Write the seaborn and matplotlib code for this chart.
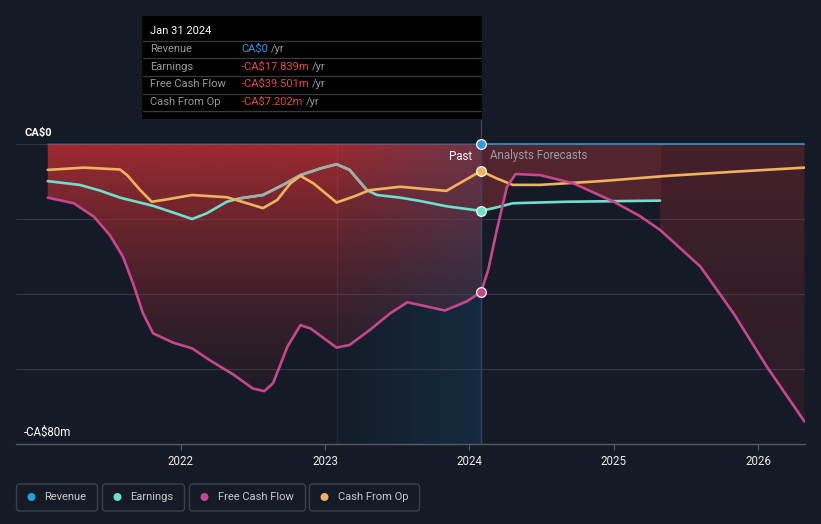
import numpy as np
import matplotlib
matplotlib.use('Agg')
import matplotlib.pyplot as plt
from matplotlib.patches import Rectangle, FancyBboxPatch, Circle
from matplotlib.transforms import IdentityTransform
import seaborn as sns

# values in CA$ millions, x in decimal years
rev_x = [2021.08, 2024.08, 2026.32]
rev_y = [0.0, 0.0, 0.0]

earn_x = [2021.08, 2021.30, 2021.44, 2021.58, 2021.81, 2021.95, 2022.08, 2022.18,
          2022.32, 2022.41, 2022.57, 2022.71, 2022.83, 2022.97, 2023.08, 2023.17,
          2023.29, 2023.36, 2023.52, 2023.66, 2023.84, 2024.08, 2024.19, 2024.30,
          2024.67, 2025.32]
earn_y = [-9.9, -10.9, -12.4, -14.3, -16.5, -18.3, -20.0, -18.5,
          -15.4, -14.5, -13.6, -10.9, -8.3, -6.5, -5.4, -6.9,
          -12.3, -13.6, -14.3, -15.2, -16.6, -17.839, -16.9, -15.8,
          -15.4, -15.1]

fcf_x = [2021.08, 2021.26, 2021.40, 2021.51, 2021.60, 2021.67, 2021.74, 2021.81,
         2021.95, 2022.08, 2022.20, 2022.37, 2022.50, 2022.58, 2022.64, 2022.74,
         2022.83, 2022.90, 2023.08, 2023.17, 2023.31, 2023.45, 2023.57, 2023.83,
         2023.98, 2024.08, 2024.13, 2024.19, 2024.26, 2024.32, 2024.49, 2024.72,
         2025.00, 2025.18, 2025.32, 2025.60, 2025.83, 2026.06, 2026.32]
fcf_y = [-14.3, -15.8, -19.4, -24.3, -30.0, -37.1, -45.2, -50.5,
         -53.0, -54.5, -57.6, -61.6, -65.2, -65.9, -63.8, -54.0,
         -48.3, -49.2, -54.3, -53.6, -49.6, -45.2, -42.2, -44.4,
         -42.0, -39.501, -33.6, -22.9, -11.4, -8.0, -8.3, -10.5,
         -15.4, -19.2, -22.9, -32.7, -45.2, -59.4, -74.0]

cfo_x = [2021.08, 2021.33, 2021.58, 2021.63, 2021.72, 2021.80, 2021.90, 2022.08,
         2022.32, 2022.46, 2022.57, 2022.67, 2022.76, 2022.83, 2022.92, 2023.08,
         2023.20, 2023.31, 2023.52, 2023.84, 2024.08, 2024.19, 2024.30, 2024.49,
         2024.91, 2025.37, 2025.83, 2026.32]
cfo_y = [-6.9, -6.3, -6.8, -8.3, -12.3, -15.4, -14.8, -13.6,
         -14.2, -15.8, -17.1, -14.9, -10.5, -8.5, -10.5, -15.6,
         -14.0, -12.3, -11.4, -12.5, -7.202, -9.2, -10.9, -10.9,
         -9.9, -8.5, -7.4, -6.3]

series = ['Revenue', 'Earnings', 'Free Cash Flow', 'Cash From Op']
colors = ['#2e9be0', '#6ce0cc', '#c8468c', '#efb35c']
tip_values = ['CA$0', '-CA$17.839m', '-CA$39.501m', '-CA$7.202m']
tip_date = 'Jan 31 2024'
years = [2022, 2023, 2024, 2025, 2026]

split = 2024.08
hl_start = 2023.08
earn_end = 2025.32
BG = '#151b26'

sns.set_style('dark', {'axes.facecolor': BG, 'figure.facecolor': BG})
plt.rcParams['font.family'] = ['Roboto', 'DejaVu Sans']

W, H = 821, 524
fig = plt.figure(figsize=(W / 100, H / 100), dpi=100, facecolor=BG)
ax = fig.add_axes([16 / W, 80 / H, 789 / W, 300 / H])
ax.set_facecolor(BG)
X0, X1 = 2020.86, 2026.324


def fx(x):
    return x / W


def fy(y):
    return 1 - y / H


def grad_fill(x, lo, rgb, a_top, a_bot, power, z):
    poly = ax.fill_between(x, 0, lo, facecolor='none', edgecolor='none')
    path = poly.get_paths()[0]
    n = 200
    t = np.linspace(0, 1, n)
    img = np.zeros((n, 1, 4))
    img[:, 0, :3] = rgb
    img[:, 0, 3] = a_bot + (a_top - a_bot) * (1 - t) ** power
    im = ax.imshow(img, extent=[X0, X1, -80, 0], aspect='auto', origin='upper',
                   zorder=z, interpolation='bilinear')
    im.set_clip_path(path, transform=ax.transData)


fx_arr = np.array(fcf_x)
fy_arr = np.array(fcf_y)

# past area: zero down to free cash flow
past = fx_arr <= split
grad_fill(fx_arr[past], fy_arr[past], (0.72, 0.18, 0.2), 0.85, 0.0, 1.6, 1)

# forecast area with earnings
xs = np.linspace(split, earn_end, 200)
lo = np.maximum(np.interp(xs, fcf_x, fcf_y), np.interp(xs, earn_x, earn_y))
ax.fill_between(xs, 0, lo, color='#b8333a', alpha=0.38, lw=0, zorder=1)

# forecast area beyond
late = fx_arr >= earn_end
grad_fill(fx_arr[late], fy_arr[late], (0.72, 0.18, 0.2), 0.3, 0.1, 1.0, 1)

# last-year highlight
hl = np.zeros((1, 100, 4))
hl[0, :, :3] = (0.08, 0.3, 0.46)
hl[0, :, 3] = np.linspace(0.04, 0.32, 100)
ax.imshow(hl, extent=[hl_start, split, -80, 0], aspect='auto', zorder=2,
          interpolation='bilinear')
ax.axvline(hl_start, color='white', alpha=0.06, lw=1, zorder=2)

# grid
for g in [0, -20, -40, -60]:
    ax.axhline(g, color='white', alpha=0.13, lw=0.8, zorder=0.5)

# lines
sns.lineplot(x=earn_x, y=earn_y, color=colors[1], linewidth=1.9, ax=ax, zorder=5)
sns.lineplot(x=earn_x[9:17], y=earn_y[9:17], color='#a4aca2', linewidth=1.9, ax=ax, zorder=5)
sns.lineplot(x=cfo_x, y=cfo_y, color=colors[3], linewidth=1.9, ax=ax, zorder=6)
sns.lineplot(x=fcf_x, y=fcf_y, color=colors[2], linewidth=1.9, ax=ax, zorder=6)
ax.plot(rev_x[:2], rev_y[:2], color=colors[0], lw=1.4, alpha=0.3, zorder=6, clip_on=False)
ax.plot(rev_x[1:], rev_y[1:], color=colors[0], lw=1.4, alpha=0.8, zorder=6, clip_on=False)

# split line and markers
ax.plot([split, split], [-80, 6.4], color='#34475e', lw=1, zorder=4, clip_on=False)
for xs_, ys_, c in [(rev_x, rev_y, colors[0]), (earn_x, earn_y, colors[1]),
                    (fcf_x, fcf_y, colors[2]), (cfo_x, cfo_y, colors[3])]:
    v = ys_[xs_.index(split)]
    ax.plot([split], [v], 'o', ms=7, mfc=c, mec='white', mew=0.9, zorder=10,
            clip_on=False)

ax.set_xlim(X0, X1)
ax.set_ylim(-80, 0)
ax.set_xticks(years)
ax.set_xticklabels([str(y) for y in years], color='#ececec', fontsize=8.3)
ax.set_yticks([])
ax.tick_params(axis='x', length=4, width=0.8, color='#555b66', pad=4, bottom=True)
for s in ['top', 'left', 'right']:
    ax.spines[s].set_visible(False)
ax.spines['bottom'].set_color('#555b66')
ax.spines['bottom'].set_linewidth(1)
ax.set_xlabel('')
ax.set_ylabel('')

ax.text(split - 0.06, -3.2, 'Past', color='white', fontsize=8.3, ha='right',
        va='center', zorder=11)
ax.text(split + 0.06, -3.2, 'Analysts Forecasts', color='#9c9ca4', fontsize=8.3,
        ha='left', va='center', zorder=11)

fig.text(fx(24), fy(132.5), 'CA$0', color='white', fontsize=8, fontweight='bold',
         va='center')
fig.text(fx(24), fy(432.5), '-CA$80m', color='white', fontsize=8.3, va='center')

# tooltip
fig.patches.append(Rectangle((fx(142), fy(119)), (482 - 142) / W, (119 - 16) / H,
                             transform=fig.transFigure, facecolor='black',
                             edgecolor='none', zorder=20))
fig.text(fx(150), fy(31), tip_date, color='white', fontsize=8, va='center', zorder=21)
for yy in [41, 58.3, 76, 93.7, 111]:
    fig.add_artist(plt.Line2D([fx(143), fx(481)], [fy(yy), fy(yy)], color='#3a3a3a',
                              lw=0.9, transform=fig.transFigure, zorder=21))
row_y = [49.3, 66.7, 84.3, 101.7]
yr_x = [271, 312.3, 312.3, 305.7]
for i, name in enumerate(series):
    fig.text(fx(150), fy(row_y[i]), name, color='#9a9a9a', fontsize=8,
             va='center', zorder=21)
    vc = colors[0] if i == 0 else '#ee4444'
    fig.text(fx(241.7), fy(row_y[i]), tip_values[i], color=vc, fontsize=8,
             va='center', zorder=21)
    fig.text(fx(yr_x[i]), fy(row_y[i]), '/yr', color='#9a9a9a', fontsize=8,
             va='center', zorder=21)

# legend boxes
boxes = [(16, 97), (102, 184), (189, 305), (309, 419)]
for (x0, x1), name, c in zip(boxes, series, colors):
    fig.patches.append(FancyBboxPatch((x0 + 0.5, H - 511), x1 - x0, 27,
                                      boxstyle='round,pad=0,rounding_size=3',
                                      transform=IdentityTransform(),
                                      facecolor='none', edgecolor='#3b404b', lw=1))
    fig.patches.append(Circle((x0 + 15.5, H - 497), 4, transform=IdentityTransform(),
                              facecolor=c, edgecolor='none'))
    fig.text(fx(x0 + 28.5), fy(497), name, color='#c9c9cc', fontsize=8, va='center')

fig.savefig('out.png', dpi=100, facecolor=BG)
